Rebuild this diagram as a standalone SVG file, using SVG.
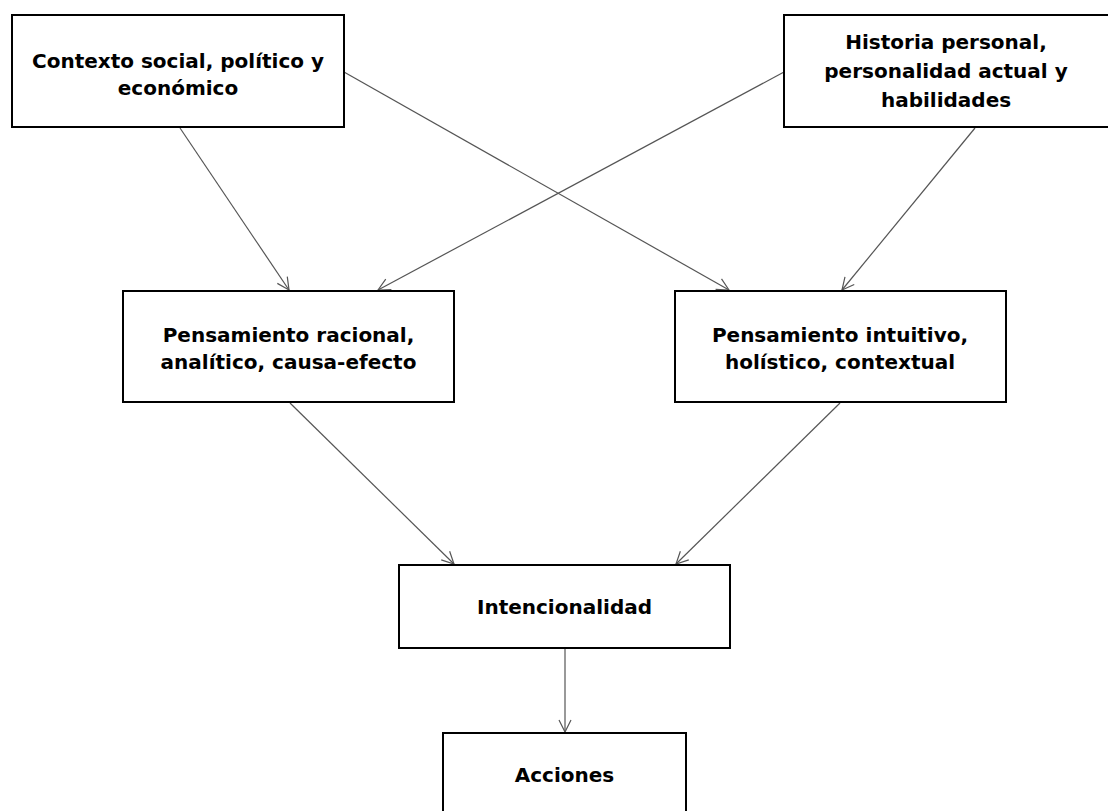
<svg xmlns="http://www.w3.org/2000/svg" width="1108" height="811" viewBox="0 0 1108 811">
  <defs>
    <style>
      .box { fill: #ffffff; stroke: #000000; stroke-width: 2; }
      .lbl { font-family: "DejaVu Sans", "Liberation Sans", sans-serif; font-weight: bold; font-size: 20px; fill: #000000; text-anchor: middle; }
      .edge { stroke: #555555; stroke-width: 1.2; fill: none; marker-end: url(#open); }
    </style>
    <marker id="open" viewBox="0 0 14 14" refX="13" refY="7" markerWidth="14" markerHeight="14" markerUnits="userSpaceOnUse" orient="auto">
      <path d="M1,1 L13,7 L1,13" fill="none" stroke="#555555" stroke-width="1.2"/>
    </marker>
  </defs>
  <rect width="1108" height="811" fill="#ffffff"/>

  <g id="connectors">
    <line class="edge" x1="180" y1="128" x2="289" y2="290"/>
    <line class="edge" x1="344" y1="72" x2="729" y2="290"/>
    <line class="edge" x1="784" y1="72" x2="378" y2="290"/>
    <line class="edge" x1="975" y1="128" x2="842" y2="290"/>
    <line class="edge" x1="290" y1="403" x2="454" y2="564"/>
    <line class="edge" x1="840" y1="403" x2="676" y2="564"/>
    <line class="edge" x1="565" y1="649" x2="565" y2="732"/>
  </g>

  <g id="contexto">
    <rect class="box" x="12" y="15" width="332" height="112"/>
    <text class="lbl" x="178" y="68">Contexto social, político y</text>
    <text class="lbl" x="178" y="95">económico</text>
  </g>

  <g id="historia">
    <rect class="box" x="784" y="15" width="326" height="112"/>
    <text class="lbl" x="946" y="49">Historia personal,</text>
    <text class="lbl" x="946" y="78">personalidad actual y</text>
    <text class="lbl" x="946" y="107">habilidades</text>
  </g>

  <g id="racional">
    <rect class="box" x="123" y="291" width="331" height="111"/>
    <text class="lbl" x="288.5" y="342">Pensamiento racional,</text>
    <text class="lbl" x="288.5" y="369">analítico, causa-efecto</text>
  </g>

  <g id="intuitivo">
    <rect class="box" x="675" y="291" width="331" height="111"/>
    <text class="lbl" x="840" y="342">Pensamiento intuitivo,</text>
    <text class="lbl" x="840" y="369">holístico, contextual</text>
  </g>

  <g id="intencionalidad">
    <rect class="box" x="399" y="565" width="331" height="83"/>
    <text class="lbl" x="564.5" y="614">Intencionalidad</text>
  </g>

  <g id="acciones">
    <rect class="box" x="443" y="733" width="243" height="90"/>
    <text class="lbl" x="564.5" y="782">Acciones</text>
  </g>
</svg>
